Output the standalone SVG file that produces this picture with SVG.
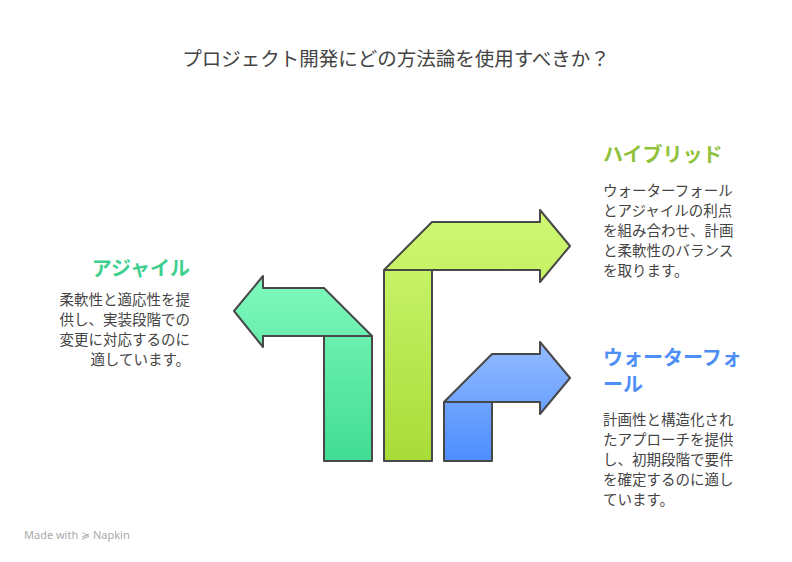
<svg xmlns="http://www.w3.org/2000/svg" width="792" height="562" viewBox="0 0 792 562">
<style>
text{font-family:"Noto Sans CJK JP","Noto Sans",sans-serif;}
.t{font-size:19.5px;fill:#444;}
.h{font-size:20px;font-weight:bold;}
.b{font-size:14.5px;fill:#444;}
.s{stroke:#484848;stroke-width:2;stroke-linejoin:round;}
.l{stroke:#484848;stroke-width:2;fill:none;}
</style>
<defs>
<linearGradient id="gg" x1="0" y1="0" x2="0" y2="1"><stop offset="0" stop-color="#80f9bd"/><stop offset="1" stop-color="#40dc94"/></linearGradient>
<linearGradient id="gl" x1="0" y1="0" x2="0" y2="1"><stop offset="0" stop-color="#d0f974"/><stop offset="1" stop-color="#a8dc38"/></linearGradient>
<linearGradient id="gb" x1="0" y1="0" x2="0" y2="1"><stop offset="0" stop-color="#94bcff"/><stop offset="1" stop-color="#4c8dff"/></linearGradient>
</defs>
<rect width="792" height="562" fill="#fff"/>
<text class="t" x="396" y="66" text-anchor="middle">プロジェクト開発にどの方法論を使用すべきか？</text>
<g id="agile">
<path class="s" fill="url(#gg)" d="M263,288 L324,288 L372,336 L372,461 L324,461 L324,336 L263,336 L263,347 L234,311 L263,276 Z"/>
<line class="l" x1="324" y1="336" x2="372" y2="336"/>
<text class="h" x="190" y="276" text-anchor="end" fill="#3ecf8e">アジャイル</text>
<text class="b" text-anchor="end"><tspan x="190" y="305">柔軟性と適応性を提</tspan><tspan x="190" y="325">供し、実装段階での</tspan><tspan x="190" y="345">変更に対応するのに</tspan><tspan x="190" y="365">適しています。</tspan></text>
</g>
<g id="hybrid">
<path class="s" fill="url(#gl)" d="M384,270 L432,222 L540,222 L540,210 L570,246 L540,282 L540,270 L432,270 L432,461 L384,461 Z"/>
<line class="l" x1="384" y1="270" x2="432" y2="270"/>
<text class="h" x="603" y="162" fill="#8fc23a">ハイブリッド</text>
<text class="b"><tspan x="603" y="196">ウォーターフォール</tspan><tspan x="603" y="216">とアジャイルの利点</tspan><tspan x="603" y="236">を組み合わせ、計画</tspan><tspan x="603" y="256">と柔軟性のバランス</tspan><tspan x="603" y="276">を取ります。</tspan></text>
</g>
<g id="waterfall">
<path class="s" fill="url(#gb)" d="M444,402 L492,354 L540,354 L540,342 L570,378 L540,414 L540,402 L492,402 L492,461 L444,461 Z"/>
<line class="l" x1="444" y1="402" x2="492" y2="402"/>
<text class="h" fill="#4e8ef7"><tspan x="603" y="365">ウォーターフォ</tspan><tspan x="603" y="392">ール</tspan></text>
<text class="b"><tspan x="603" y="425">計画性と構造化され</tspan><tspan x="603" y="445">たアプローチを提供</tspan><tspan x="603" y="465">し、初期段階で要件</tspan><tspan x="603" y="485">を確定するのに適し</tspan><tspan x="603" y="505">ています。</tspan></text>
</g>
<g id="connectors"></g>
<text x="24" y="539" font-size="11" fill="#aaa" style="font-family:'Noto Sans',sans-serif">Made with ≽ Napkin</text>
</svg>
